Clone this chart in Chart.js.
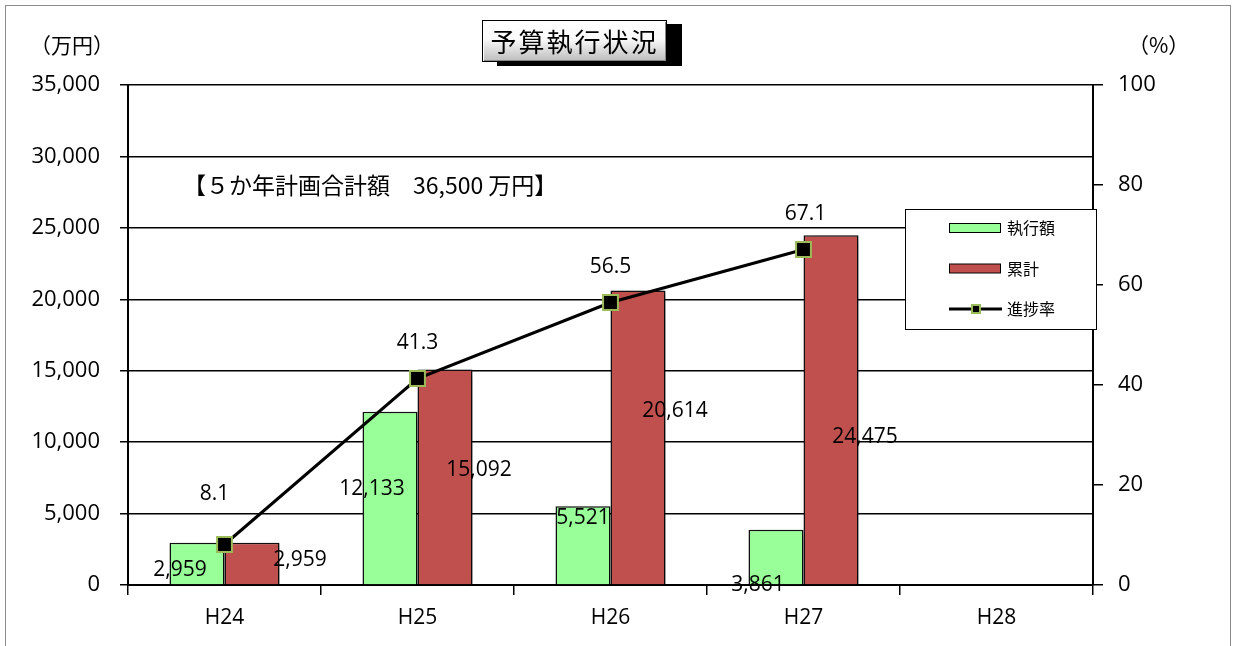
<!DOCTYPE html>
<html lang="ja">
<head>
<meta charset="utf-8">
<title>予算執行状況</title>
<script src="https://cdn.jsdelivr.net/npm/chart.js@4.4.1/dist/chart.umd.min.js"></script>
<style>
  html, body { margin: 0; padding: 0; background: #fff; }
  #wrap { position: relative; width: 1235px; height: 646px; overflow: hidden; }
  #frame { position: absolute; left: 5px; top: 5px; width: 1226px; height: 660px; border: 1px solid #8c8c8c; box-sizing: border-box; pointer-events: none; }
  #chart { position: absolute; left: 0; top: 0; }
  .unit { position: absolute; font-family: "Noto Sans CJK JP", sans-serif; font-size: 21px; color: #000; }
  #title {
    position: absolute; left: 482px; top: 20px; width: 185px; height: 42px;
    border: 1px solid #000; box-sizing: border-box;
    background: linear-gradient(#ffffff 0%, #fafafa 45%, #bdbdbd 100%);
    box-shadow: inset 1px 1px 0 #fff, inset -1px -1px 0 #888, 15px 4px 0 #000;
    font-family: "Noto Sans CJK JP", sans-serif; font-size: 26px; letter-spacing: 2px;
    text-align: center; line-height: 40px; color: #000;
  }
</style>
</head>
<body>
<div id="wrap">
  <canvas id="chart" width="1235" height="646"></canvas>
  <div class="unit" style="left:30px; top:29px;">（万円）</div>
  <div class="unit" style="left:1128px; top:29px;">（%）</div>
  <div id="title">予算執行状況</div>
  <div id="frame"></div>
</div>
<script>
// Data
const years = ['H24', 'H25', 'H26', 'H27', 'H28'];
const spent = [2959, 12133, 5521, 3861, null];        // 執行額
const cumulative = [2959, 15092, 20614, 24475, null]; // 累計
const progress = [8.1, 41.3, 56.5, 67.1, null];       // 進捗率 (%)
const planNote = '【５か年計画合計額　36,500 万円】';

const numFont = '"Open Sans", "Liberation Sans", sans-serif';
const jpFont = '"Noto Sans CJK JP", sans-serif';

// Soft shadow behind the bars
const barShadow = {
    id: 'barShadow',
    beforeDatasetDraw(chart, args) {
        if (args.meta.type !== 'bar') return;
        const ctx = chart.ctx;
        ctx.save();
        ctx.shadowColor = 'rgba(0,0,0,0.45)';
        ctx.shadowBlur = 8;
        ctx.shadowOffsetX = 5;
        ctx.shadowOffsetY = 3;
    },
    afterDatasetDraw(chart, args) {
        if (args.meta.type !== 'bar') return;
        chart.ctx.restore();
    }
};

// Data labels, placed like the original sheet
const valueLabels = {
    id: 'valueLabels',
    afterDatasetsDraw(chart, args, opts) {
        const ctx = chart.ctx;
        ctx.save();
        ctx.fillStyle = '#000';
        ctx.font = '21px ' + numFont;
        ctx.textAlign = 'center';
        ctx.textBaseline = 'middle';
        chart.data.datasets.forEach((ds, di) => {
            const meta = chart.getDatasetMeta(di);
            const off = opts.offsets[di];
            meta.data.forEach((el, i) => {
                const v = ds.data[i];
                if (v == null) return;
                const text = ds.type === 'line' ? v.toFixed(1) : v.toLocaleString('en-US');
                ctx.fillText(text, el.x + off[i][0], el.y + off[i][1]);
            });
        });
        // plan note
        ctx.font = '23px ' + jpFont;
        ctx.textAlign = 'left';
        ctx.fillText(planNote, chart.chartArea.left + 55, chart.scales.y.getPixelForValue(28000));
        ctx.restore();
    }
};

// Legend box drawn over the plot
const boxLegend = {
    id: 'boxLegend',
    afterDraw(chart, args, opts) {
        const ctx = chart.ctx;
        const { x, y, w, h } = opts.box;
        ctx.save();
        ctx.fillStyle = '#fff';
        ctx.fillRect(x, y, w, h);
        ctx.strokeStyle = '#000';
        ctx.lineWidth = 1;
        ctx.strokeRect(x + 0.5, y + 0.5, w, h);
        ctx.font = '16px ' + jpFont;
        ctx.textBaseline = 'middle';
        ctx.textAlign = 'left';
        chart.data.datasets.forEach((ds, i) => {
            const cy = y + 19 + i * 40.5;
            const sx = x + 44;
            if (ds.type === 'line') {
                ctx.strokeStyle = ds.borderColor;
                ctx.lineWidth = 3;
                ctx.beginPath();
                ctx.moveTo(sx, cy);
                ctx.lineTo(sx + 53, cy);
                ctx.stroke();
                ctx.fillStyle = ds.pointBorderColor;
                ctx.fillRect(sx + 22, cy - 5, 10, 10);
                ctx.fillStyle = ds.pointBackgroundColor;
                ctx.fillRect(sx + 24, cy - 3, 6, 6);
            } else {
                ctx.fillStyle = ds.backgroundColor;
                ctx.fillRect(sx, cy - 4.5, 52, 9);
                ctx.strokeStyle = '#000';
                ctx.lineWidth = 1;
                ctx.strokeRect(sx + 0.5, cy - 4.5, 51, 9);
            }
            ctx.fillStyle = '#000';
            ctx.fillText(ds.label, sx + 58, cy);
        });
        ctx.restore();
    }
};

const ctx = document.getElementById('chart').getContext('2d');
new Chart(ctx, {
    data: {
        labels: years,
        datasets: [
            {
                type: 'bar',
                label: '執行額',
                data: spent,
                backgroundColor: '#99FF99',
                borderColor: '#111',
                borderWidth: 1.5,
                categoryPercentage: 0.57,
                barPercentage: 1.0,
                yAxisID: 'y',
                order: 2
            },
            {
                type: 'bar',
                label: '累計',
                data: cumulative,
                backgroundColor: '#C0504D',
                borderColor: '#111',
                borderWidth: 1.5,
                categoryPercentage: 0.57,
                barPercentage: 1.0,
                yAxisID: 'y',
                order: 2
            },
            {
                type: 'line',
                label: '進捗率',
                data: progress,
                borderColor: '#000',
                borderWidth: 3,
                pointStyle: 'rect',
                pointRadius: 10.5,
                pointBackgroundColor: '#000',
                pointBorderColor: '#9BBB59',
                pointBorderWidth: 2,
                tension: 0,
                yAxisID: 'y1',
                order: 0
            }
        ]
    },
    options: {
        responsive: false,
        animation: false,
        layout: { padding: { top: 85, left: 0, right: 0, bottom: 0 } },
        plugins: {
            legend: { display: false },
            tooltip: { enabled: false },
            valueLabels: {
                offsets: [
                    [[-17, 27], [-18, 77], [0, 12], [-18, 55]],
                    [[48, 17], [34, 101], [37, 121], [34, 202]],
                    [[-10, -50], [0, -35], [0, -35], [2, -35]]
                ]
            },
            boxLegend: { box: { x: 905, y: 209, w: 191, h: 120 } }
        },
        scales: {
            x: {
                offset: true,
                grid: { drawOnChartArea: false, color: '#000', tickLength: 10, lineWidth: 1.5, offset: true },
                border: { color: '#000', width: 2 },
                ticks: { color: '#000', font: { family: numFont, size: 21 }, padding: 10 },
                afterFit(scale) { scale.height = 61; }
            },
            y: {
                position: 'left',
                min: 0,
                max: 35000,
                ticks: {
                    stepSize: 5000,
                    color: '#000',
                    padding: 20,
                    font: { family: numFont, size: 22 },
                    callback: v => v.toLocaleString('en-US')
                },
                grid: { color: '#000', lineWidth: 1.5, tickLength: 8 },
                border: { color: '#000', width: 2 },
                afterFit(scale) { scale.width = 128; }
            },
            y1: {
                position: 'right',
                min: 0,
                max: 100,
                ticks: {
                    stepSize: 20,
                    color: '#000',
                    padding: 15,
                    font: { family: numFont, size: 22 }
                },
                grid: { drawOnChartArea: false, color: '#000', lineWidth: 1.5, tickLength: 10 },
                border: { color: '#000', width: 2 },
                afterFit(scale) { scale.width = 142; }
            }
        }
    },
    plugins: [barShadow, valueLabels, boxLegend]
});
</script>
</body>
</html>
